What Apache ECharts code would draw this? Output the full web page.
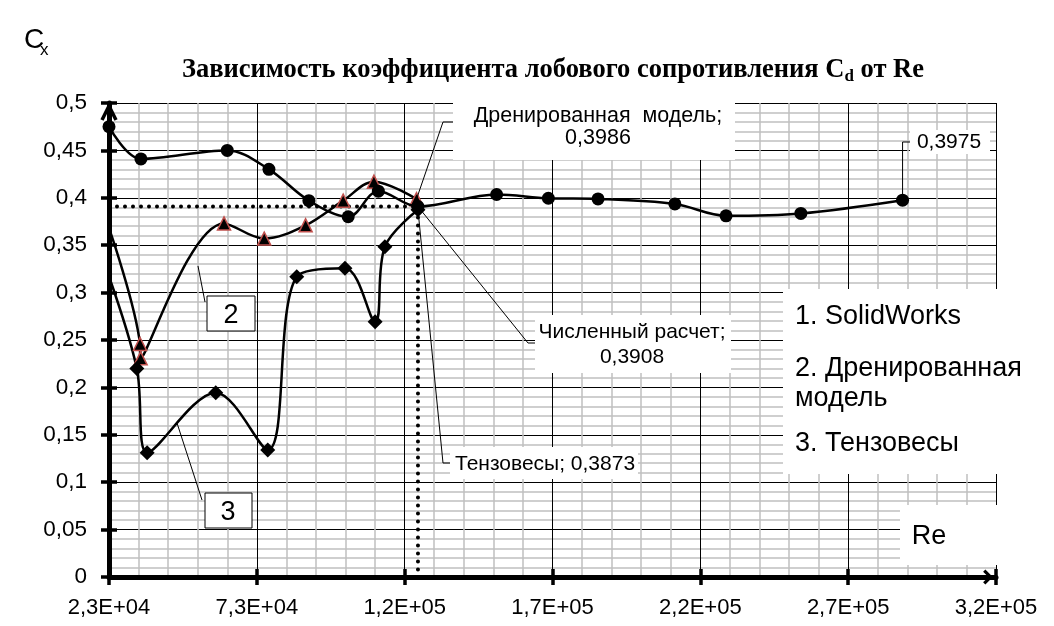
<!DOCTYPE html>
<html>
<head>
<meta charset="utf-8">
<script src="https://cdn.jsdelivr.net/npm/echarts@6/dist/echarts.min.js"></script>
<style>
  html, body { margin: 0; background: #fff; }
  #chart { width: 1054px; height: 626px; }
</style>
</head>
<body>
<div id="chart"></div>
<script>
// Re (x) and Cx (y)
const reSolid = [23000, 33800, 63000, 77100, 90600, 103900, 114100, 127500, 154100, 171600, 188400, 214400, 231700, 257000, 291400];
const cxSolid = [0.475, 0.441, 0.450, 0.430, 0.397, 0.380, 0.407, 0.3908, 0.4035, 0.3995, 0.3988, 0.3935, 0.381, 0.3835, 0.3975];

const reDrained = [23000, 33500, 33700, 61900, 75500, 89500, 102200, 112600, 127000];
const cxDrained = [0.368, 0.2458, 0.2307, 0.373, 0.357, 0.371, 0.397, 0.417, 0.3986];

const reTenzo = [23000, 32400, 35900, 59100, 76700, 86500, 102800, 113000, 116300, 127500];
const cxTenzo = [0.317, 0.220, 0.131, 0.1944, 0.134, 0.3168, 0.3256, 0.2693, 0.3484, 0.3873];

// axis ranges / ticks
const reMin = 23000, reMax = 323000, reStep = 50000;
const cxMin = 0, cxMax = 0.5, cxStep = 0.05;

const legendLines = ['1. SolidWorks', '2. Дренированная', 'модель', '3. Тензовесы'];

const FONT = "'Liberation Sans', Arial, sans-serif";
const SERIF = "'Liberation Serif', 'Times New Roman', serif";
const ARROW = 'path://M10,0 L20,10 L17,13 L10,6 L3,13 L0,10 Z';

function fmtRe(v) {
  const e = Math.floor(Math.log10(v));
  const m = (v / Math.pow(10, e)).toFixed(1).replace('.', ',');
  return m + 'E+' + String(e).padStart(2, '0');
}
function fmtCx(v) {
  return String(+v.toFixed(2)).replace('.', ',');
}
// first point of a curve comes in from the axis, no marker there
function pairs(xs, ys, hideFirst) {
  return xs.map((x, i) => (hideFirst && i === 0) ? { value: [x, ys[i]], symbol: 'none' } : [x, ys[i]]);
}

const refRe = reSolid[7], refCx = cxSolid[7];

const chart = echarts.init(document.getElementById('chart'));
const gridBox = { left: 109, top: 103, right: 58, bottom: 49 };
const tickStyle = { color: '#000', width: 3.5 };

chart.setOption({
  animation: false,
  backgroundColor: '#fff',
  title: {
    text: '{b|Зависимость коэффициента лобового сопротивления C}{s|d}{b| от Re}',
    left: 177, top: 50,
    textStyle: {
      rich: {
        b: { fontFamily: SERIF, fontWeight: 'bold', fontSize: 26.5, color: '#000', lineHeight: 30 },
        s: { fontFamily: SERIF, fontWeight: 'bold', fontSize: 17, color: '#000', lineHeight: 30, verticalAlign: 'bottom', padding: [12, 0, 0, 0] }
      }
    }
  },
  grid: [Object.assign({}, gridBox), Object.assign({}, gridBox)],
  xAxis: [{
    type: 'value', gridIndex: 0, min: reMin, max: reMax, interval: reStep,
    axisLine: { onZero: false, lineStyle: { color: '#000', width: 5 }, symbol: ['none', ARROW], symbolSize: [15, 18], symbolOffset: [0, -8] },
    axisTick: { length: 8, lineStyle: tickStyle },
    axisLabel: { formatter: fmtRe, fontFamily: FONT, fontSize: 22, color: '#000', margin: 20 },
    splitLine: { show: true, lineStyle: { color: '#000', width: 1 } },
    minorTick: { show: false, splitNumber: 5 },
    minorSplitLine: { show: true, lineStyle: { color: '#c0c0c0', width: 1.5 } }
  }, {
    type: 'value', gridIndex: 1, min: reMin, max: reMax, interval: reStep,
    axisLine: { show: false },
    axisTick: { inside: true, length: 8, lineStyle: tickStyle },
    axisLabel: { show: false },
    splitLine: { show: false }
  }],
  yAxis: [{
    type: 'value', gridIndex: 0, min: cxMin, max: cxMax, interval: cxStep,
    axisLine: { show: true, onZero: false, lineStyle: { color: '#000', width: 5 } },
    axisTick: { show: true, length: 8, lineStyle: tickStyle },
    axisLabel: { formatter: fmtCx, fontFamily: FONT, fontSize: 22.5, color: '#000', margin: 22 },
    splitLine: { show: true, lineStyle: { color: '#000', width: 1 } },
    minorTick: { show: false, splitNumber: 5 },
    minorSplitLine: { show: true, lineStyle: { color: '#c0c0c0', width: 1.5 } }
  }, {
    type: 'value', gridIndex: 1, min: cxMin, max: cxMax, interval: cxStep,
    axisLine: { show: false },
    axisTick: { show: true, inside: true, length: 8, lineStyle: tickStyle },
    axisLabel: { show: false },
    splitLine: { show: false }
  }],
  series: [{
    name: '1. SolidWorks', type: 'line', smooth: 0.35, z: 5,
    data: pairs(reSolid, cxSolid, false),
    symbol: 'circle', symbolSize: 13,
    itemStyle: { color: '#000' },
    lineStyle: { color: '#000', width: 2.5 }
  }, {
    name: '2. Дренированная модель', type: 'line', smooth: 0.35, z: 4,
    data: pairs(reDrained, cxDrained, true),
    symbol: 'triangle', symbolSize: 13,
    itemStyle: { color: '#000', borderColor: '#c0504d', borderWidth: 1.5 },
    lineStyle: { color: '#000', width: 2.5 }
  }, {
    name: '3. Тензовесы', type: 'line', smooth: 0.35, z: 4,
    data: pairs(reTenzo, cxTenzo, true),
    symbol: 'diamond', symbolSize: 15,
    itemStyle: { color: '#000' },
    lineStyle: { color: '#000', width: 2.5 }
  }, {
    name: 'ref', type: 'line', z: 3, symbol: 'none',
    data: [[reMin, refCx], [refRe, refCx], [refRe, cxMin]],
    lineStyle: { color: '#000', width: 4, type: [0, 8], cap: 'round' }
  }]
});

// annotations: white text boxes with leader lines to the points
const pt = (x, y) => chart.convertToPixel({ gridIndex: 0 }, [x, y]);
const pDr = pt(reDrained[reDrained.length - 1], cxDrained[cxDrained.length - 1]);
const pNum = pt(refRe, refCx);
const pTen = pt(reTenzo[reTenzo.length - 1], cxTenzo[cxTenzo.length - 1]);
const pEnd = pt(reSolid[reSolid.length - 1], cxSolid[cxSolid.length - 1]);
const pTop = pt(reMin, cxMax);

function box(x, y, w, h, stroke) {
  return { type: 'rect', z: 1, shape: { x, y, width: w, height: h },
    style: { fill: '#fff', stroke: stroke || null, lineWidth: 1 } };
}
function txt(x, y, text, size, align) {
  return { type: 'text', z: 10, x, y,
    style: { text, fontFamily: FONT, fontSize: size, fill: '#000', align: align || 'left', verticalAlign: 'middle' } };
}
function leader(points) {
  return { type: 'polyline', z: 9, shape: { points }, style: { stroke: '#000', lineWidth: 1, fill: null } };
}

const elements = [
  // arrow head on the Cx axis
  { type: 'polyline', z: 12, shape: { points: [[pTop[0] - 7, pTop[1] + 17], [pTop[0], pTop[1] + 3], [pTop[0] + 7, pTop[1] + 17]] },
    style: { stroke: '#000', lineWidth: 3.5, fill: null } },
  // Дренированная модель
  box(453, 100, 282, 60),
  txt(598, 116, 'Дренированная  модель;', 21.5, 'center'),
  txt(598, 138, '0,3986', 21.5, 'center'),
  leader([pDr, [443, 122], [453, 122]]),
  // 0,3975
  box(910, 130, 80, 24),
  txt(949, 142, '0,3975', 21, 'center'),
  leader([pEnd, [pEnd[0], 142], [910, 142]]),
  // Численный расчет
  box(535, 315, 196, 58),
  txt(632, 332, 'Численный расчет;', 21, 'center'),
  txt(632, 357, '0,3908', 21, 'center'),
  leader([pNum, [528, 343], [535, 343]]),
  // Тензовесы
  box(450, 447, 188, 32),
  txt(455, 464, 'Тензовесы; 0,3873', 21, 'left'),
  leader([pTen, [443, 463], [450, 463]]),
  // legend block
  box(783, 289, 255, 185),
  txt(795, 317, legendLines[0], 27),
  txt(795, 369, legendLines[1], 27),
  txt(795, 399, legendLines[2], 27),
  txt(795, 444, legendLines[3], 27),
  // Re axis name
  box(900, 505, 97, 60),
  txt(929, 537, 'Re', 27, 'center'),
  // curve numbers
  box(207, 296, 48, 35, '#000'),
  txt(231, 316, '2', 27, 'center'),
  leader([[198, 266], [205, 302]]),
  box(205, 493, 47, 35, '#000'),
  txt(228, 513, '3', 27, 'center'),
  leader([[177, 423], [202, 500]]),
  // Cx axis name
  txt(24, 40, 'C', 28, 'left'),
  txt(40, 50, 'x', 17, 'left')
];
chart.setOption({ graphic: { elements } });
</script>
</body>
</html>
